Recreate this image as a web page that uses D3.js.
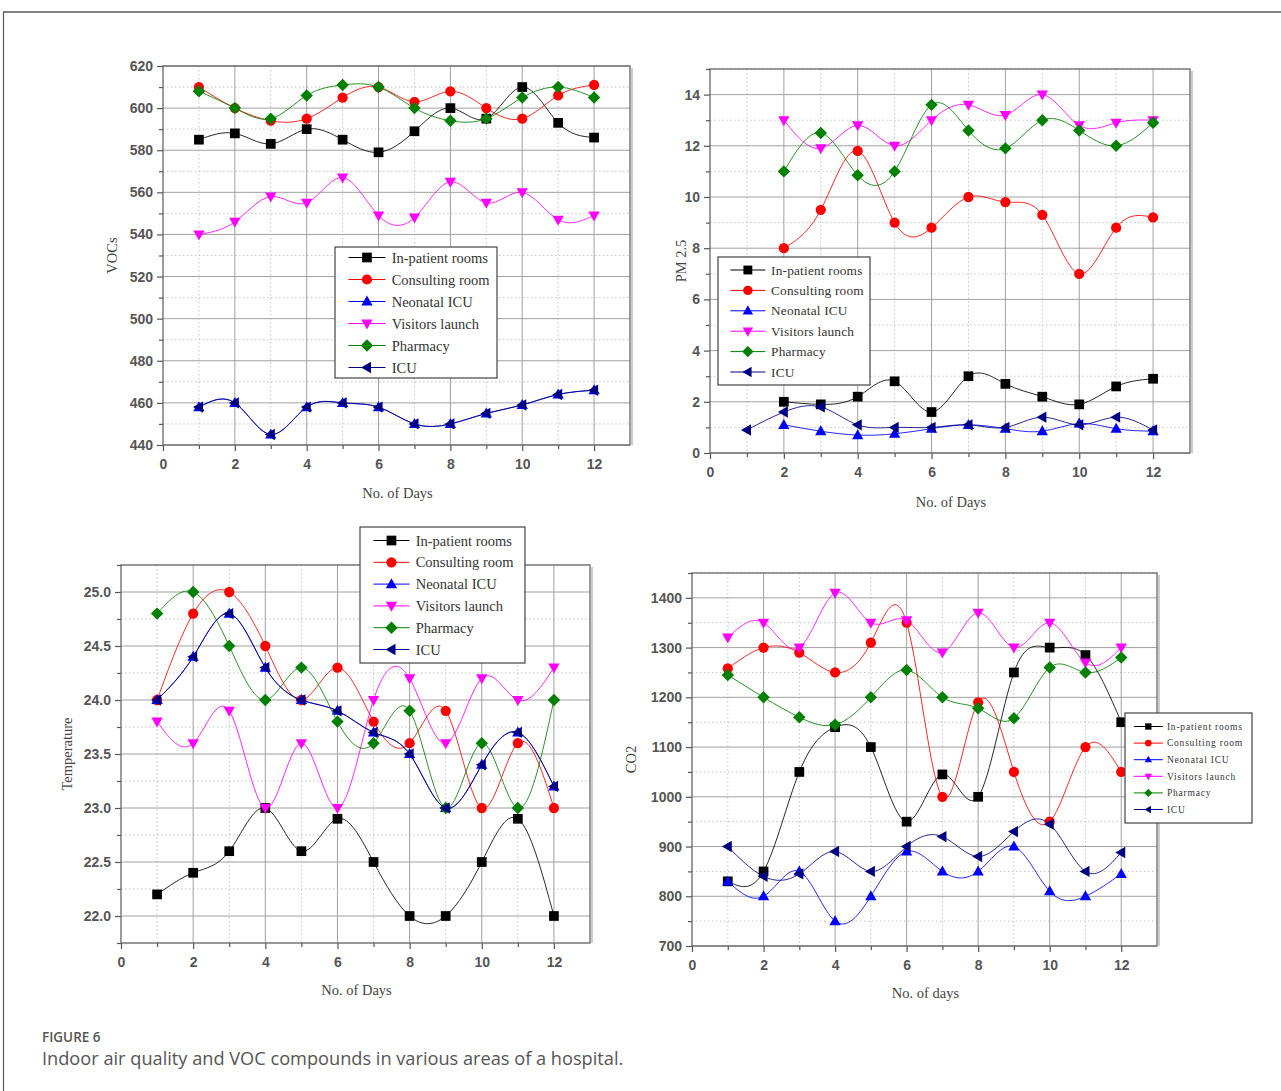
<!DOCTYPE html>
<html>
<head>
<meta charset="utf-8">
<script src="https://cdn.jsdelivr.net/npm/d3@7"></script>
<style>
  body { margin: 0; background: #fff; }
  svg { display: block; }
  .tick-label { font-family: "Liberation Sans", Arial, sans-serif; font-size: 14px; font-weight: bold; fill: #555; }
  .axis-title { font-family: "Liberation Serif", "Times New Roman", serif; font-size: 14.5px; fill: #444; }
  .legend-text { font-family: "Liberation Serif", "Times New Roman", serif; fill: #333; }
</style>
</head>
<body>
<svg id="fig" width="1281" height="1091"></svg>
<script>
const days = [1, 2, 3, 4, 5, 6, 7, 8, 9, 10, 11, 12];
const seriesNames = ["In-patient rooms", "Consulting room", "Neonatal ICU", "Visitors launch", "Pharmacy", "ICU"];
const seriesColors = ["#000000", "#ff0000", "#0000ff", "#ff00ff", "#008000", "#000080"];
const seriesMarkers = ["square", "circle", "up", "down", "diamond", "left"];

// one row per series, in legend order
const vocsValues = [
  [585, 588, 583, 590, 585, 579, 589, 600, 595, 610, 593, 586],
  [610, 600, 594, 595, 605, 610, 603, 608, 600, 595, 606, 611],
  [458, 460, 445, 458, 460, 458, 450, 450, 455, 459, 464, 466],
  [540, 546, 558, 555, 567, 549, 548, 565, 555, 560, 547, 549],
  [608, 600, 595, 606, 611, 610, 600, 594, 595, 605, 610, 605],
  [458, 460, 445, 458, 460, 458, 450, 450, 455, 459, 464, 466]
];
const pmValues = [
  [null, 2.0, 1.9, 2.2, 2.8, 1.6, 3.0, 2.7, 2.2, 1.9, 2.6, 2.9],
  [null, 8.0, 9.5, 11.8, 9.0, 8.8, 10.0, 9.8, 9.3, 7.0, 8.8, 9.2],
  [null, 1.1, 0.85, 0.7, 0.75, 0.95, 1.1, 0.95, 0.85, 1.15, 0.95, 0.85],
  [null, 13.0, 11.9, 12.8, 12.0, 13.0, 13.6, 13.2, 14.0, 12.8, 12.9, 13.0],
  [null, 11.0, 12.5, 10.85, 11.0, 13.6, 12.6, 11.9, 13.0, 12.6, 12.0, 12.9],
  [0.9, 1.6, 1.8, 1.1, 1.0, 1.0, 1.1, 1.0, 1.4, 1.1, 1.4, 0.9]
];
const tempValues = [
  [22.2, 22.4, 22.6, 23.0, 22.6, 22.9, 22.5, 22.0, 22.0, 22.5, 22.9, 22.0],
  [24.0, 24.8, 25.0, 24.5, 24.0, 24.3, 23.8, 23.6, 23.9, 23.0, 23.6, 23.0],
  [24.0, 24.4, 24.8, 24.3, 24.0, 23.9, 23.7, 23.5, 23.0, 23.4, 23.7, 23.2],
  [23.8, 23.6, 23.9, 23.0, 23.6, 23.0, 24.0, 24.2, 23.6, 24.2, 24.0, 24.3],
  [24.8, 25.0, 24.5, 24.0, 24.3, 23.8, 23.6, 23.9, 23.0, 23.6, 23.0, 24.0],
  [24.0, 24.4, 24.8, 24.3, 24.0, 23.9, 23.7, 23.5, 23.0, 23.4, 23.7, 23.2]
];
const co2Values = [
  [830, 850, 1050, 1140, 1100, 950, 1045, 1000, 1250, 1300, 1285, 1150],
  [1258, 1300, 1290, 1250, 1310, 1350, 1000, 1190, 1050, 950, 1100, 1050],
  [830, 800, 850, 750, 800, 890, 850, 850, 900, 810, 800, 845],
  [1320, 1350, 1300, 1410, 1350, 1355, 1290, 1370, 1300, 1350, 1270, 1300],
  [1245, 1200, 1160, 1145, 1200, 1255, 1200, 1178, 1158, 1260, 1250, 1280],
  [900, 840, 845, 890, 850, 900, 920, 880, 930, 945, 850, 888]
];

const xTicks = [0, 2, 4, 6, 8, 10, 12];
const vocsTicks = [440, 460, 480, 500, 520, 540, 560, 580, 600, 620];
const pmTicks = [0, 2, 4, 6, 8, 10, 12, 14];
const tempTicks = [22.0, 22.5, 23.0, 23.5, 24.0, 24.5, 25.0];
const co2Ticks = [700, 800, 900, 1000, 1100, 1200, 1300, 1400];

const svg = d3.select("#fig");

// page frame (top and left rules)
svg.append("line").attr("x1", 3).attr("y1", 12).attr("x2", 1281).attr("y2", 12)
  .attr("stroke", "#5a5a5a").attr("stroke-width", 1.5);
svg.append("line").attr("x1", 3.5).attr("y1", 12).attr("x2", 3.5).attr("y2", 1091)
  .attr("stroke", "#5a5a5a").attr("stroke-width", 1.2);

const panels = [
  { values: vocsValues, yTicks: vocsTicks, yDomain: [440, 620], yMinor: 10, fmt: d3.format("d"),
    box: [163, 630, 66, 445], yTitle: "VOCs", xTitle: "No. of Days", xTitleY: 498, yTitleX: 117,
    legend: { x: 335, y: 247, w: 162, h: 131, row: 22, font: 14.5, line: 37, letter: 0 } },
  { values: pmValues, yTicks: pmTicks, yDomain: [0, 15], yMinor: 1, fmt: d3.format("d"),
    box: [710, 1190, 69, 453], yTitle: "PM 2.5", xTitle: "No. of Days", xTitleY: 507, yTitleX: 686,
    legend: { x: 718, y: 257, w: 152, h: 128, row: 20.4, font: 13.3, line: 35, letter: 0.2 } },
  { values: tempValues, yTicks: tempTicks, yDomain: [21.75, 25.25], yMinor: 0.25, fmt: d3.format(".1f"),
    box: [121, 590, 565, 943], yTitle: "Temperature", xTitle: "No. of Days", xTitleY: 995, yTitleX: 72,
    legend: { x: 360, y: 527, w: 165, h: 136, row: 21.8, font: 14.5, line: 36, letter: 0 } },
  { values: co2Values, yTicks: co2Ticks, yDomain: [700, 1450], yMinor: 50, fmt: d3.format("d"),
    box: [692, 1157, 573, 946], yTitle: "CO2", xTitle: "No. of days", xTitleY: 998, yTitleX: 636,
    legend: { x: 1125, y: 713, w: 127, h: 110, row: 16.6, font: 9.5, line: 29, letter: 0.8 } }
];

panels.forEach(drawPanel);

function drawPanel(p) {
  const [left, right, top, bottom] = p.box;
  const x = d3.scaleLinear().domain([0, 13]).range([left, right]);
  const y = d3.scaleLinear().domain(p.yDomain).range([bottom, top]);
  const g = svg.append("g");

  const xMinor = d3.range(1, 13, 2);
  const yMinor = d3.range(p.yDomain[0], p.yDomain[1] + 1e-9, p.yMinor)
    .filter(v => !p.yTicks.some(t => Math.abs(t - v) < 1e-9));

  // minor grid (dotted)
  g.selectAll("line.xminor").data(xMinor).enter().append("line")
    .attr("x1", d => x(d)).attr("x2", d => x(d)).attr("y1", top).attr("y2", bottom)
    .attr("stroke", "#c4c4c4").attr("stroke-dasharray", "1.5,2.5");
  g.selectAll("line.yminor").data(yMinor).enter().append("line")
    .attr("x1", left).attr("x2", right).attr("y1", d => y(d)).attr("y2", d => y(d))
    .attr("stroke", "#c4c4c4").attr("stroke-dasharray", "1.5,2.5");

  // major grid
  g.selectAll("line.xmajor").data(xTicks.filter(d => d > 0)).enter().append("line")
    .attr("x1", d => x(d)).attr("x2", d => x(d)).attr("y1", top).attr("y2", bottom)
    .attr("stroke", "#a0a0a0").attr("stroke-width", 1);
  g.selectAll("line.ymajor").data(p.yTicks).enter().append("line")
    .attr("x1", left).attr("x2", right).attr("y1", d => y(d)).attr("y2", d => y(d))
    .attr("stroke", "#a0a0a0").attr("stroke-width", 1);

  // axes with outward ticks
  const xAxis = d3.axisBottom(x).tickValues(xTicks).tickSize(6).tickPadding(8).tickFormat(d3.format("d"));
  const xAxisMinor = d3.axisBottom(x).tickValues(xMinor).tickSize(4).tickFormat("");
  const yAxis = d3.axisLeft(y).tickValues(p.yTicks).tickSize(6).tickPadding(4).tickFormat(p.fmt);
  const yAxisMinor = d3.axisLeft(y).tickValues(yMinor).tickSize(4).tickFormat("");

  [xAxis, xAxisMinor].forEach(a => {
    g.append("g").attr("transform", "translate(0," + bottom + ")").call(a)
      .call(s => s.select(".domain").remove());
  });
  [yAxis, yAxisMinor].forEach(a => {
    g.append("g").attr("transform", "translate(" + left + ",0)").call(a)
      .call(s => s.select(".domain").remove());
  });
  g.selectAll(".tick line").attr("stroke", "#555").attr("stroke-width", 1.2);
  g.selectAll(".tick text").attr("class", "tick-label").attr("font-size", null).attr("font-family", null);

  // plot frame with a faint shadow on the right
  g.append("line").attr("x1", right + 2).attr("x2", right + 2).attr("y1", top + 2).attr("y2", bottom)
    .attr("stroke", "#bbb").attr("stroke-width", 1.5);
  g.append("rect").attr("x", left).attr("y", top).attr("width", right - left).attr("height", bottom - top)
    .attr("fill", "none").attr("stroke", "#666").attr("stroke-width", 1.3);

  // axis titles
  g.append("text").attr("class", "axis-title")
    .attr("x", (left + right) / 2 + 1).attr("y", p.xTitleY).attr("text-anchor", "middle").text(p.xTitle);
  g.append("text").attr("class", "axis-title")
    .attr("transform", "translate(" + p.yTitleX + "," + ((top + bottom) / 2) + ") rotate(-90)")
    .attr("text-anchor", "middle").text(p.yTitle);

  // series
  const line = d3.line().x(d => x(d.day)).y(d => y(d.value)).curve(d3.curveNatural);
  p.values.forEach((vals, i) => {
    const pts = days.map((day, j) => ({ day: day, value: vals[j] })).filter(d => d.value != null);
    g.append("path").datum(pts).attr("d", line)
      .attr("fill", "none").attr("stroke", seriesColors[i]).attr("stroke-width", 1).attr("opacity", 0.85);
    g.selectAll("path.m" + i).data(pts).enter().append("path")
      .attr("class", "m" + i)
      .attr("transform", d => "translate(" + x(d.day) + "," + y(d.value) + ")")
      .attr("d", markerPath(seriesMarkers[i], 5.4))
      .attr("fill", seriesColors[i]);
  });

  drawLegend(g, p.legend);
}

function drawLegend(g, L) {
  const lg = g.append("g").attr("transform", "translate(" + L.x + "," + L.y + ")");
  lg.append("rect").attr("width", L.w).attr("height", L.h)
    .attr("fill", "#fff").attr("stroke", "#444").attr("stroke-width", 1.2);
  const scale = L.font / 14;
  seriesNames.forEach((name, i) => {
    const cy = L.h / 2 + (i - 2.5) * L.row;
    const x0 = 13 * scale;
    lg.append("line").attr("x1", x0).attr("x2", x0 + L.line).attr("y1", cy).attr("y2", cy)
      .attr("stroke", seriesColors[i]).attr("stroke-width", 1);
    lg.append("path").attr("transform", "translate(" + (x0 + L.line / 2) + "," + cy + ")")
      .attr("d", markerPath(seriesMarkers[i], 5.2 * scale)).attr("fill", seriesColors[i]);
    lg.append("text").attr("class", "legend-text")
      .attr("x", x0 + L.line + 6 * scale).attr("y", cy).attr("dy", "0.35em")
      .attr("font-size", L.font).attr("letter-spacing", L.letter)
      .text(name);
  });
}

function markerPath(type, r) {
  const p = d3.path();
  if (type === "square") {
    p.rect(-r * 0.9, -r * 0.9, r * 1.8, r * 1.8);
  } else if (type === "circle") {
    p.arc(0, 0, r * 0.95, 0, 2 * Math.PI);
  } else if (type === "diamond") {
    p.moveTo(0, -r * 1.15); p.lineTo(r * 1.15, 0); p.lineTo(0, r * 1.15); p.lineTo(-r * 1.15, 0); p.closePath();
  } else {
    const angle = { up: 0, down: Math.PI, left: -Math.PI / 2 }[type];
    const pts = [[0, -r * 1.1], [r * 1.05, r * 0.75], [-r * 1.05, r * 0.75]].map(([a, b]) => [
      a * Math.cos(angle) - b * Math.sin(angle),
      a * Math.sin(angle) + b * Math.cos(angle)
    ]);
    p.moveTo(pts[0][0], pts[0][1]); p.lineTo(pts[1][0], pts[1][1]); p.lineTo(pts[2][0], pts[2][1]); p.closePath();
  }
  return p.toString();
}

// caption
svg.append("text").attr("x", 42).attr("y", 1042)
  .attr("font-family", "'Open Sans', sans-serif").attr("font-size", 13.5).attr("font-weight", 600)
  .attr("fill", "#555").text("FIGURE 6");
svg.append("text").attr("x", 42).attr("y", 1065)
  .attr("font-family", "'Open Sans', sans-serif").attr("font-size", 18.2)
  .attr("fill", "#555").text("Indoor air quality and VOC compounds in various areas of a hospital.");
</script>
</body>
</html>
